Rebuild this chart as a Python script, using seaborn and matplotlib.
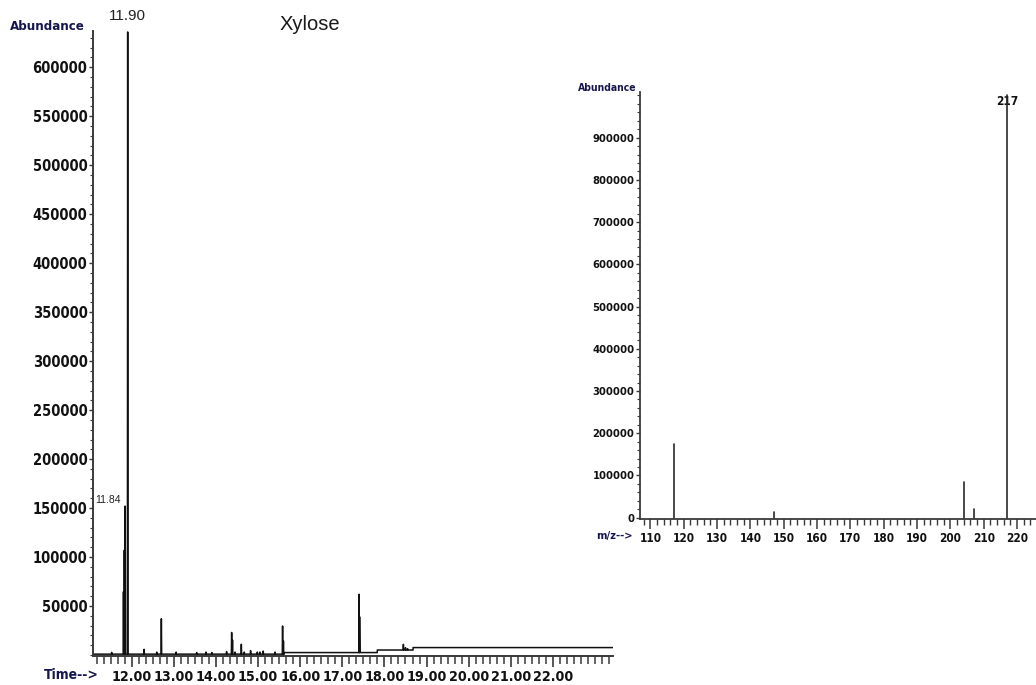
import numpy as np
import pandas as pd
import matplotlib
matplotlib.use("Agg")
import matplotlib.pyplot as plt
from matplotlib.ticker import MultipleLocator, FixedLocator
import seaborn as sns

# ---- Total ion chromatogram (retention time in min, abundance) ----
peak_times = [11.52, 11.80, 11.82, 11.84, 11.90, 12.29, 12.59, 12.70, 13.05,
              13.54, 13.76, 13.90, 14.25, 14.37, 14.39, 14.45, 14.60, 14.67,
              14.82, 14.98, 15.04, 15.12, 15.40, 15.58, 15.60, 17.40, 17.41,
              18.45, 18.50, 18.55]
peak_heights = [2700, 64600, 107000, 152000, 636000, 5800, 3000, 37000, 3000,
                2500, 3000, 2500, 3500, 23000, 15300, 3000, 11000, 3000,
                4500, 3000, 3000, 4000, 3000, 29600, 14300, 62000, 39000,
                10900, 7500, 6500]
# stepwise baseline level: starts at each time, held until the next
baseline_times = [11.08, 15.62, 17.83, 18.68]
baseline_levels = [900, 2500, 5100, 7600]
run_end = 23.43

labelled_peaks = {"11.90": 11.90, "11.84": 11.84}

# ---- Mass spectrum (m/z, abundance) ----
mz_values = [117, 147, 204, 207, 217]
mz_abundance = [174500, 13000, 84000, 21000, 1000000]
base_peak_label = "217"

# build the chromatogram polyline from the peak list and baseline steps
half_w = 0.007
verts_t, verts_a = [baseline_times[0]], [baseline_levels[0]]
for t, h in sorted(zip(peak_times, peak_heights)):
    base = baseline_levels[np.searchsorted(baseline_times, t, side="right") - 1]
    verts_t += [t - half_w, t, t + half_w]
    verts_a += [base, max(h, base), base]
for t, lvl in zip(baseline_times[1:], baseline_levels[1:]):
    prev = baseline_levels[np.searchsorted(baseline_times, t - 1e-6, side="right") - 1]
    verts_t += [t, t + 1e-4]
    verts_a += [prev, lvl]
verts_t.append(run_end)
verts_a.append(baseline_levels[-1])
order = np.argsort(verts_t, kind="stable")
tic = pd.DataFrame({"time": np.array(verts_t)[order], "abundance": np.array(verts_a)[order]})

sticks = pd.DataFrame({
    "mz": np.repeat(mz_values, 2),
    "abundance": np.ravel([[0, a] for a in mz_abundance]),
})

sns.set_theme(style="ticks")
plt.rcParams["font.family"] = ["DejaVu Sans"]
plt.rcParams["font.stretch"] = "condensed"

navy = "#16164e"
ink = "#111111"
axis_col = "#3a3a3a"
regular = dict(family=["Liberation Sans", "DejaVu Sans"], stretch="normal")

fig = plt.figure(figsize=(10.36, 6.85), dpi=100)
fig.patch.set_facecolor("white")

# ---------------- chromatogram ----------------
ax1 = fig.add_axes([93 / 1036, 1 - 656 / 685, (613 - 93) / 1036, (656 - 31) / 685])
sns.lineplot(data=tic, x="time", y="abundance", sort=False, estimator=None,
             color="#101010", linewidth=1.1, ax=ax1)
ax1.set_xlim(11.076, 23.43)
ax1.set_ylim(-1000, 637000)
ax1.set_xlabel("")
ax1.set_ylabel("")
sns.despine(ax=ax1)
for s in ("left", "bottom"):
    ax1.spines[s].set_color(axis_col)
    ax1.spines[s].set_linewidth(1.4)

ax1.xaxis.set_major_locator(FixedLocator(list(range(12, 23))))
ax1.set_xticklabels([f"{v:.2f}" for v in range(12, 23)])
ax1.xaxis.set_minor_locator(MultipleLocator(1 / 6))
ax1.yaxis.set_major_locator(FixedLocator(list(range(50000, 600001, 50000))))
ax1.set_yticklabels([str(v) for v in range(50000, 600001, 50000)])
ax1.yaxis.set_minor_locator(MultipleLocator(10000))
ax1.tick_params(axis="x", which="major", length=8, width=1.2, color=axis_col, pad=2,
                labelsize=10.3, labelcolor=ink)
ax1.tick_params(axis="x", which="minor", length=6, width=1.1, color=axis_col)
ax1.tick_params(axis="y", which="major", length=3, width=1.0, color=axis_col, pad=1,
                labelsize=10.5, labelcolor=ink)
ax1.tick_params(axis="y", which="minor", length=2, width=0.8, color=axis_col)
for lab in ax1.get_xticklabels() + ax1.get_yticklabels():
    lab.set_fontweight("bold")
    lab.set_fontstretch("condensed")

ax1.annotate("11.90", xy=(labelled_peaks["11.90"], 637000), xytext=(0, 6),
             textcoords="offset points", ha="center", va="bottom", fontsize=11,
             color="#222222", annotation_clip=False, **regular)
i84 = peak_times.index(labelled_peaks["11.84"])
ax1.annotate("11.84", xy=(labelled_peaks["11.84"], peak_heights[i84]), xytext=(-3, 1),
             textcoords="offset points", ha="right", va="bottom", fontsize=7.5,
             color="#222222", **regular)

fig.text(47 / 1036, 1 - 27 / 685, "Abundance", ha="center", va="center",
         fontsize=9.5, fontweight="bold", color=navy)
fig.text(71 / 1036, 1 - 675 / 685, "Time-->", ha="center", va="center",
         fontsize=10, fontweight="bold", color=navy)
fig.text(310 / 1036, 1 - 25 / 685, "Xylose", ha="center", va="center",
         fontsize=14.5, color="#1a1a1a", **regular)

# ---------------- mass spectrum ----------------
ax2 = fig.add_axes([640 / 1036, 1 - 519 / 685, (1036 - 640) / 1036, (519 - 92) / 685])
sns.lineplot(data=sticks, x="mz", y="abundance", units="mz", estimator=None,
             color="#2a2a2a", linewidth=1.2, ax=ax2, zorder=3)
ax2.set_xlim(106.9, 225.7)
ax2.set_ylim(-3000, 1008000)
ax2.set_xlabel("")
ax2.set_ylabel("")
sns.despine(ax=ax2)
for s in ("left", "bottom"):
    ax2.spines[s].set_color(axis_col)
    ax2.spines[s].set_linewidth(1.3)
ax2.xaxis.set_major_locator(MultipleLocator(10))
ax2.xaxis.set_minor_locator(MultipleLocator(2))
ax2.yaxis.set_major_locator(FixedLocator(list(range(0, 900001, 100000))))
ax2.set_yticklabels([str(v) for v in range(0, 900001, 100000)])
ax2.yaxis.set_minor_locator(MultipleLocator(20000))
ax2.tick_params(axis="x", which="major", length=7, width=1.1, color=axis_col, pad=2,
                labelsize=8.5, labelcolor=ink)
ax2.tick_params(axis="x", which="minor", length=4, width=1.0, color=axis_col)
ax2.tick_params(axis="y", which="major", length=3, width=1.0, color=axis_col, pad=1,
                labelsize=8, labelcolor=ink)
ax2.tick_params(axis="y", which="minor", length=2, width=0.8, color=axis_col)
for lab in ax2.get_xticklabels() + ax2.get_yticklabels():
    lab.set_fontweight("bold")
    lab.set_fontstretch("condensed")

ibp = mz_values.index(int(base_peak_label))
ax2.text(mz_values[ibp], mz_abundance[ibp], base_peak_label, ha="center", va="top",
         fontsize=8.5, fontweight="bold", color=ink, zorder=2)

fig.text(607 / 1036, 1 - 88 / 685, "Abundance", ha="center", va="center",
         fontsize=7.5, fontweight="bold", color=navy)
fig.text(614 / 1036, 1 - 536 / 685, "m/z-->", ha="center", va="center",
         fontsize=8, fontweight="bold", color=navy)

fig.savefig("out.png", dpi=100, facecolor="white")
